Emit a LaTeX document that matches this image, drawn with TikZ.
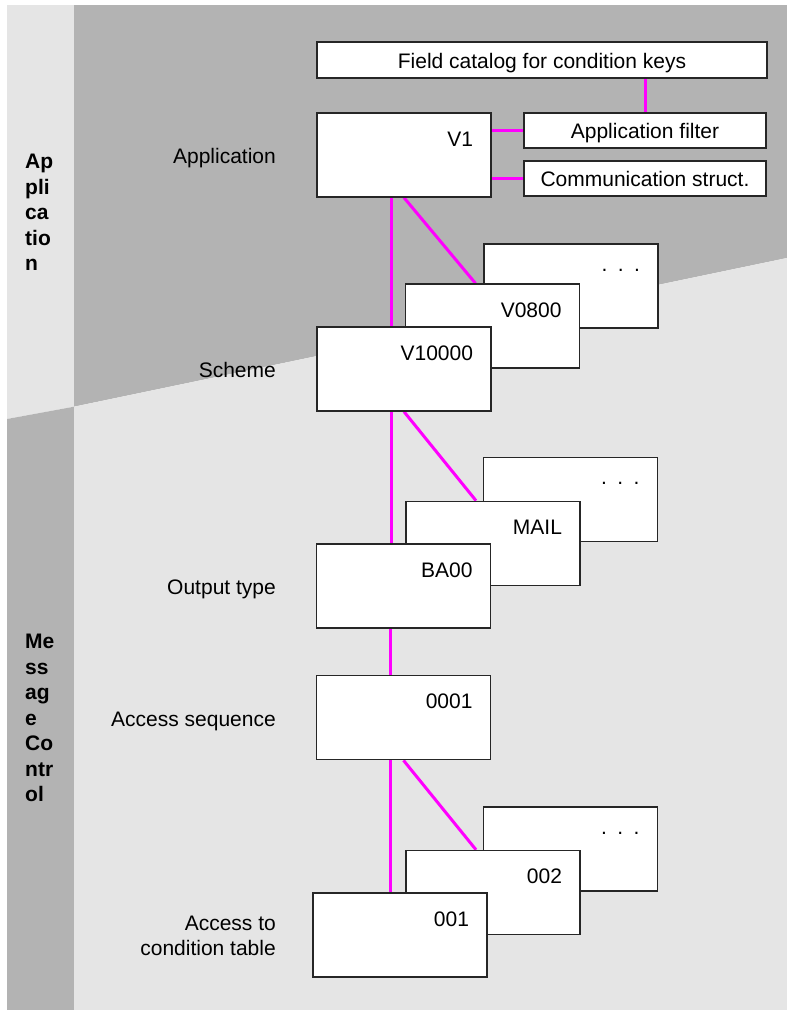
\documentclass[tikz,border=0pt]{standalone}
\usepackage{fontspec}
\setmainfont{Liberation Sans}
\usetikzlibrary{positioning}

\definecolor{bgdark}{RGB}{179,179,179}
\definecolor{bglight}{RGB}{229,229,229}
\definecolor{linkpink}{RGB}{255,0,255}

\pgfdeclarelayer{backdrop}
\pgfdeclarelayer{links}
\pgfsetlayers{backdrop,links,main}

\tikzset{
    card/.style={draw=black!85, line width=1.3pt, fill=white, minimum width=174pt,
        text width=138pt, align=right, inner xsep=18pt, inner ysep=0pt,
        text height=33pt, text depth=51pt},
    dotcard/.style={card, text height=27pt, text depth=57pt},
    tag/.style={draw=black!85, line width=1.3pt, fill=white, inner sep=0pt,
        text height=16pt, text depth=0pt},
    side/.style={anchor=base east, inner sep=0pt},
    band/.style={anchor=base west, inner sep=0pt, align=left,
        font=\fontsize{21}{25.5}\selectfont\bfseries},
    link/.style={draw=linkpink, line width=3pt}
}

\begin{document}
\begin{tikzpicture}[x=1pt,y=-1pt,every node/.style={font=\fontsize{21}{25.5}\selectfont}]
    \useasboundingbox (0,0) rectangle (787,1010);

    % background bands
    \begin{pgfonlayer}{backdrop}
        \fill[bglight] (7,5) -- (74,5) -- (74,406.7) -- (7,419) -- cycle;
        \fill[bgdark] (7,419) -- (74,406.7) -- (74,1010) -- (7,1010) -- cycle;
        \fill[bgdark] (74,5) -- (787,5) -- (787,258) -- (74,406.7) -- cycle;
        \fill[bglight] (74,406.7) -- (787,258) -- (787,1010) -- (74,1010) -- cycle;
    \end{pgfonlayer}

    % band titles
    \node[band] (appband) at (25,270.5) {Ap\\pli\\ca\\tio\\n};
    \node[band] (msgband) at (25,801.7) {Me\\ss\\ag\\e\\Co\\ntr\\ol};

    % application level
    \node[tag, minimum width=450pt, minimum height=36pt] (catalog) at (542,60) {Field catalog for condition keys};
    \node[card] (v1) at (404,155) {V1};
    \node[tag, minimum width=242pt, minimum height=35pt] (appfilter) at (645,130.5) {Application filter};
    \node[tag, minimum width=242pt, minimum height=35pt] (comm) at (645,178.5) {Communication struct.};

    % schemes
    \node[dotcard] (schemes) at (571,286) {. . .};
    \node[card] (v0800) at (492.5,326) {V0800};
    \node[card] (v10000) at (404,369) {V10000};

    % output types
    \node[dotcard] (outtypes) at (570.5,499.5) {. . .};
    \node[card] (mail) at (493,543.3) {MAIL};
    \node[card] (ba00) at (403.5,586) {BA00};

    % access sequence
    \node[card] (acc) at (403.5,717.7) {0001};

    % condition tables
    \node[dotcard] (tables) at (570.5,849) {. . .};
    \node[card] (t002) at (493,892.4) {002};
    \node[card] (t001) at (400,935) {001};

    % row labels
    \node[side] (lapp) at (276,163) {Application};
    \node[side] (lscheme) at (276,377) {Scheme};
    \node[side] (lout) at (276,594) {Output type};
    \node[side] (lacc) at (276,726) {Access sequence};
    \node[side, align=right] (ltab) at (276,955.7) {Access to\\condition table};

    % connectors
    \begin{pgfonlayer}{links}
        \draw[link] (appfilter.north) -- (appfilter.north |- catalog.south);
        \draw[link] (appfilter.west) -- (appfilter.west -| v1.east);
        \draw[link] (comm.west) -- (comm.west -| v1.east);
        \foreach \a/\b in {v1/v10000, v10000/ba00, ba00/acc, acc/t001}
            \draw[link] ([xshift=-13pt]\a.south) -- ([xshift=-13pt]\a.south |- \b.north);
        \foreach \a/\b in {v1/v0800, v10000/mail, acc/t002}
            \draw[link] (\a.south) -- ([xshift=-17pt]\b.north);
    \end{pgfonlayer}
\end{tikzpicture}
\end{document}
